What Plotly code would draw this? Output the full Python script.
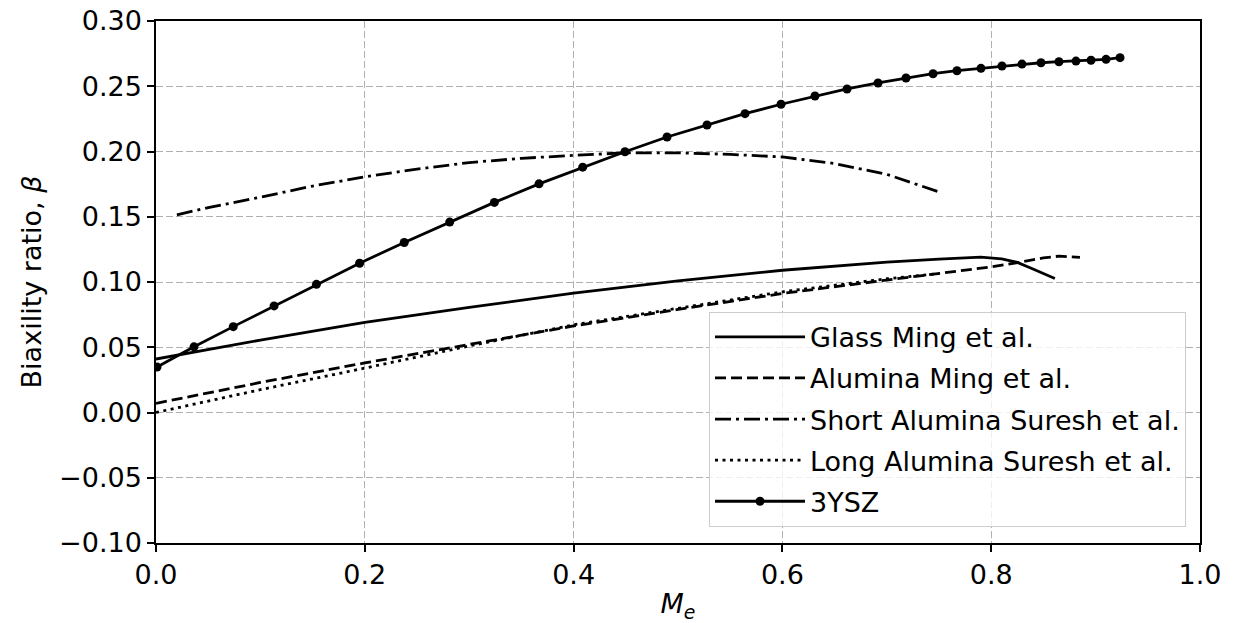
import plotly.graph_objects as go

# ---- data ----
glass_x = [0.0, 0.1, 0.2, 0.3, 0.4, 0.5, 0.6, 0.7, 0.75, 0.79, 0.81, 0.825, 0.84, 0.861]
glass_y = [0.041, 0.0555, 0.069, 0.0805, 0.0914, 0.1008, 0.109, 0.1152, 0.1175, 0.119, 0.1178, 0.115, 0.110, 0.1027]

alum_x = [0.0, 0.1, 0.2, 0.3, 0.4, 0.5, 0.6, 0.7, 0.8, 0.83, 0.85, 0.865, 0.885]
alum_y = [0.007, 0.023, 0.038, 0.052, 0.0663, 0.079, 0.0912, 0.1015, 0.1116, 0.1155, 0.1185, 0.1198, 0.1188]

short_x = [0.02, 0.05, 0.1, 0.15, 0.2, 0.25, 0.3, 0.35, 0.4, 0.45, 0.5, 0.55, 0.6, 0.65, 0.7, 0.75]
short_y = [0.1515, 0.157, 0.165, 0.1735, 0.1806, 0.1865, 0.1915, 0.1948, 0.197, 0.199, 0.199, 0.1978, 0.1958, 0.1908, 0.1825, 0.169]

long_x = [0.0, 0.1, 0.2, 0.3, 0.4, 0.5, 0.6, 0.7, 0.75]
long_y = [0.0, 0.0175, 0.034, 0.051, 0.0672, 0.080, 0.0925, 0.1025, 0.1065]

ysz_x = [0.001, 0.0364, 0.074, 0.1131, 0.1537, 0.195, 0.2378, 0.2813, 0.3241, 0.3669,
         0.4087, 0.4492, 0.4895, 0.5278, 0.5642, 0.5987, 0.6312, 0.6619, 0.6916, 0.7184,
         0.7443, 0.7672, 0.7902, 0.8103, 0.8295, 0.8477, 0.8649, 0.8812, 0.8956, 0.910, 0.9234]
ysz_y = [0.0348, 0.0503, 0.0658, 0.0817, 0.0982, 0.1144, 0.1303, 0.1459, 0.161, 0.1752,
         0.188, 0.1998, 0.2111, 0.2203, 0.229, 0.2362, 0.2425, 0.2479, 0.2525, 0.2563,
         0.2596, 0.2619, 0.2637, 0.2655, 0.267, 0.268, 0.2688, 0.2693, 0.2699, 0.2706, 0.2719]

series_names = ["Glass Ming et al.", "Alumina Ming et al.", "Short Alumina Suresh et al.",
                "Long Alumina Suresh et al.", "3YSZ"]

FS = 27
LW = 2.8
fig = go.Figure()
fig.add_trace(go.Scatter(x=glass_x, y=glass_y, mode="lines", name=series_names[0],
                         legendgroup="a", line=dict(color="black", width=LW)))
fig.add_trace(go.Scatter(x=alum_x, y=alum_y, mode="lines", name=series_names[1],
                         legendgroup="b", line=dict(color="black", width=LW, dash="11px,5px")))
fig.add_trace(go.Scatter(x=short_x, y=short_y, mode="lines", name=series_names[2],
                         legendgroup="c", line=dict(color="black", width=LW, dash="16px,5px,3px,5px")))
fig.add_trace(go.Scatter(x=long_x, y=long_y, mode="lines", name=series_names[3],
                         legendgroup="d", line=dict(color="black", width=LW, dash="3px,4.5px")))
fig.add_trace(go.Scatter(x=ysz_x, y=ysz_y, mode="lines+markers", name=series_names[4],
                         legendgroup="e", line=dict(color="black", width=LW),
                         marker=dict(color="black", size=9)))

axis_common = dict(
    showline=True, linecolor="black", linewidth=1.5, mirror=True,
    ticks="outside", ticklen=7, tickwidth=1.5, tickcolor="black",
    showgrid=True, gridcolor="#b0b0b0", gridwidth=1, griddash="7px,3px",
    zeroline=False, tickfont=dict(size=FS, color="black"), automargin=False,
)

fig.update_xaxes(range=[0, 1], dtick=0.2, tick0=0, tickformat=".1f",
                 title=dict(text="<i>M</i><sub><i>e</i></sub>", font=dict(size=FS, color="black"), standoff=6),
                 **axis_common)
fig.update_yaxes(range=[-0.1, 0.3], dtick=0.05, tick0=0, tickformat=".2f",
                 title=dict(text="Biaxility ratio, <i>β</i>", font=dict(size=FS, color="black"), standoff=10),
                 **axis_common)

fig.update_layout(
    width=1234, height=623,
    margin=dict(l=156, r=34, t=21, b=80),
    plot_bgcolor="white", paper_bgcolor="white",
    font=dict(family="DejaVu Sans", size=FS, color="black"),
    legend=dict(x=0.9866, y=0.031, xanchor="right", yanchor="bottom",
                bgcolor="rgba(255,255,255,0.8)", bordercolor="#cccccc", borderwidth=1,
                font=dict(size=FS), tracegroupgap=3, itemwidth=90),
    showlegend=True,
)

fig.write_html("out.html")
